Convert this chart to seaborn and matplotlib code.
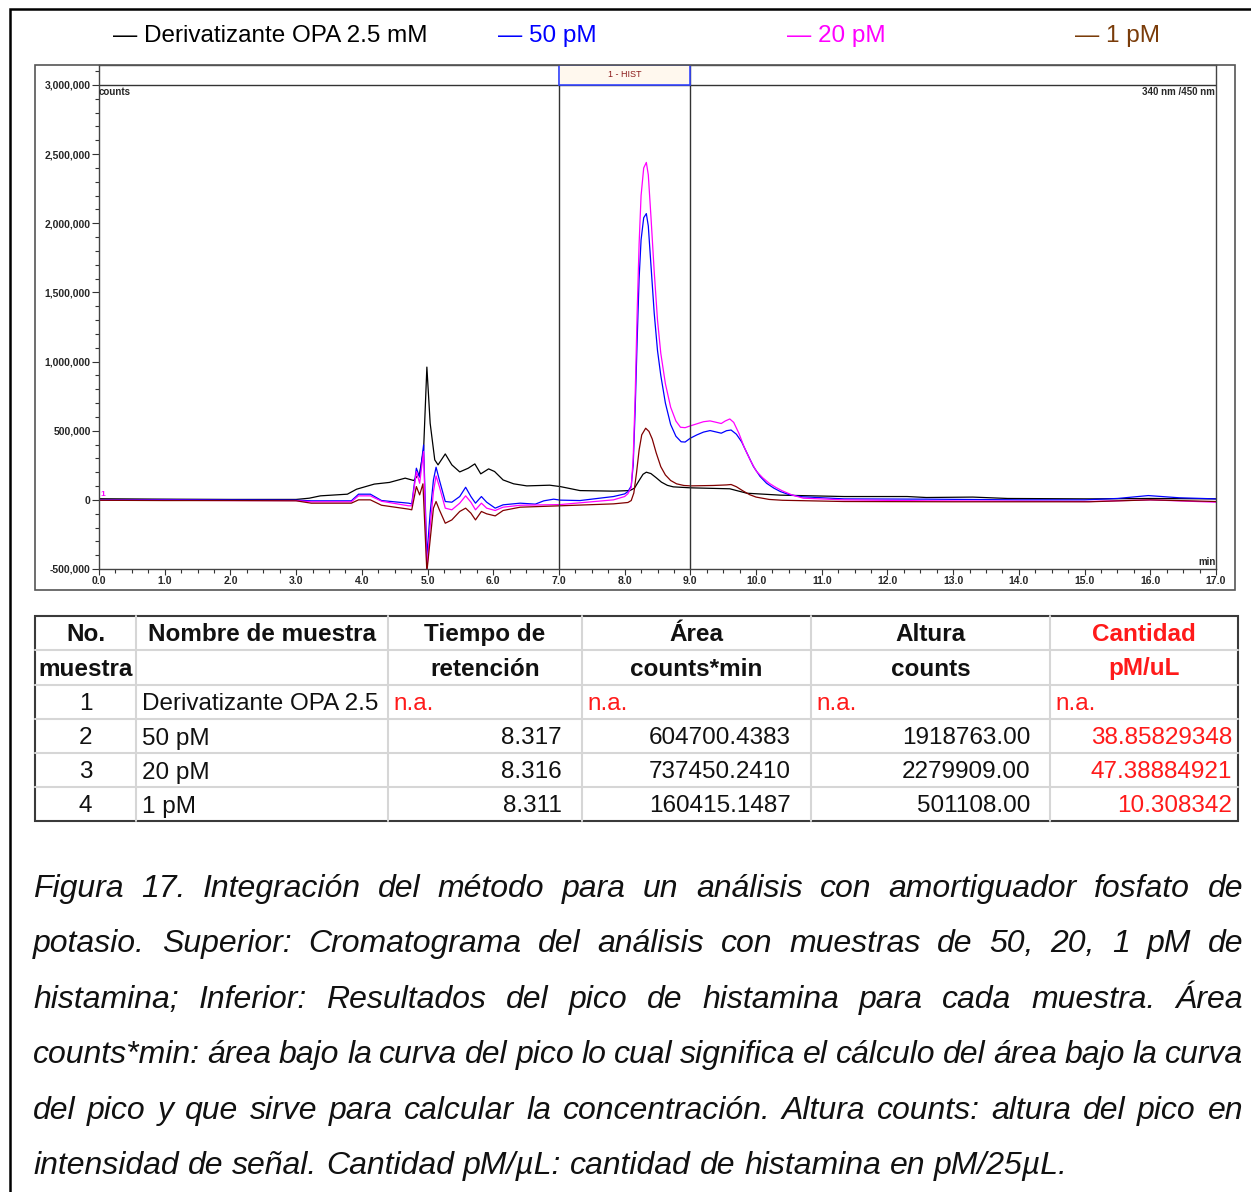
import numpy as np
import pandas as pd
import matplotlib
matplotlib.use('Agg')
from matplotlib import pyplot as plt
from matplotlib.patches import Rectangle
from matplotlib.lines import Line2D
from matplotlib.ticker import MultipleLocator, FuncFormatter
import seaborn as sns

##########
#  Data  #
##########

# Chromatogram traces (time in min, signal in counts)
t_opa = [0.0, 1.0, 2.0, 3.0, 3.2, 3.37, 3.78, 3.92, 4.19, 4.42, 4.66, 4.79, 4.88, 4.94, 4.99, 5.04,
         5.11, 5.16, 5.27, 5.37, 5.49, 5.62, 5.72, 5.81, 5.93, 6.02, 6.15, 6.31, 6.51, 6.86, 7.02,
         7.32, 7.83, 8.08, 8.15, 8.22, 8.28, 8.33, 8.40, 8.48, 8.56, 8.65, 8.74, 9.0, 9.6, 9.86,
         10.37, 11.34, 12.3, 12.59, 13.3, 13.83, 15.07, 16.0, 17.0]
v_opa = [8e3, 5e3, 3e3, 3e3, 12e3, 29e3, 41e3, 77e3, 114e3, 126e3, 157e3, 140e3, 193e3, 361e3, 960e3,
         554e3, 289e3, 253e3, 332e3, 253e3, 202e3, 229e3, 260e3, 188e3, 224e3, 205e3, 144e3, 116e3,
         101e3, 106e3, 96e3, 67e3, 63e3, 67e3, 85e3, 140e3, 185e3, 200e3, 190e3, 160e3, 128e3,
         105e3, 94e3, 87e3, 80e3, 48e3, 34e3, 24e3, 24e3, 17e3, 20e3, 10e3, 7e3, 10e3, 7e3]

t_50 = [0.0, 1.0, 2.0, 3.0, 3.23, 3.84, 3.95, 4.13, 4.30, 4.71, 4.76, 4.83, 4.88, 4.94, 4.99, 5.04,
        5.09, 5.13, 5.18, 5.27, 5.37, 5.49, 5.58, 5.66, 5.73, 5.82, 5.90, 6.03, 6.15, 6.41, 6.64,
        6.77, 6.92, 7.02, 7.32, 7.83, 8.0, 8.05, 8.10, 8.13, 8.16, 8.19, 8.22, 8.25, 8.29, 8.33,
        8.36, 8.40, 8.45, 8.50, 8.55, 8.62, 8.70, 8.78, 8.86, 8.92, 9.0, 9.1, 9.2, 9.3, 9.4, 9.47,
        9.55, 9.62, 9.7, 9.78, 9.86, 9.96, 10.06, 10.16, 10.27, 10.37, 10.5, 10.7, 10.85, 11.34,
        12.6, 14.0, 15.0, 15.5, 15.97, 16.44, 17.0]
v_50 = [0, 2e3, 0, -2e3, -7e3, -7e3, 41e3, 41e3, -5e3, -24e3, -29e3, 229e3, 164e3, 397e3, -410e3,
        -94e3, 144e3, 236e3, 144e3, -12e3, -17e3, 24e3, 91e3, 24e3, -24e3, 24e3, -17e3, -60e3,
        -36e3, -24e3, -31e3, -7e3, 5e3, -2e3, -5e3, 24e3, 43e3, 60e3, 100e3, 250e3, 650e3, 1.15e6,
        1.6e6, 1.88e6, 2.04e6, 2.07e6, 1.98e6, 1.70e6, 1.35e6, 1.08e6, 900e3, 700e3, 545e3, 460e3,
        420e3, 418e3, 446e3, 470e3, 490e3, 501e3, 490e3, 482e3, 500e3, 505e3, 475e3, 420e3, 340e3,
        241e3, 170e3, 120e3, 85e3, 60e3, 38e3, 22e3, 19e3, 7e3, 5e3, 0, 0, 10e3, 31e3, 15e3, 7e3]

t_20 = [0.0, 1.0, 2.0, 3.0, 3.23, 3.84, 3.95, 4.13, 4.30, 4.71, 4.76, 4.83, 4.88, 4.94, 4.99, 5.04,
        5.09, 5.13, 5.18, 5.27, 5.37, 5.49, 5.58, 5.66, 5.73, 5.82, 5.90, 6.03, 6.15, 6.41, 7.02,
        7.83, 8.0, 8.05, 8.10, 8.13, 8.16, 8.19, 8.22, 8.25, 8.29, 8.33, 8.36, 8.40, 8.45, 8.50,
        8.55, 8.62, 8.70, 8.78, 8.85, 8.92, 9.0, 9.1, 9.2, 9.3, 9.4, 9.47, 9.53, 9.6, 9.66, 9.74,
        9.82, 9.91, 10.0, 10.1, 10.2, 10.3, 10.4, 10.55, 10.72, 11.34, 12.6, 15.07, 16.0, 17.0]
v_20 = [-3e3, -3e3, -5e3, -5e3, -14e3, -14e3, 29e3, 29e3, -10e3, -43e3, -43e3, 205e3, 120e3, 349e3,
        -506e3, -193e3, 60e3, 173e3, 96e3, -60e3, -72e3, -24e3, 29e3, -17e3, -72e3, -24e3, -60e3,
        -77e3, -53e3, -39e3, -34e3, 0, 24e3, 45e3, 90e3, 300e3, 750e3, 1.35e6, 1.85e6, 2.2e6, 2.40e6,
        2.44e6, 2.35e6, 2.05e6, 1.65e6, 1.30e6, 1.06e6, 840e3, 670e3, 570e3, 525e3, 522e3, 535e3,
        550e3, 565e3, 571e3, 560e3, 552e3, 570e3, 585e3, 560e3, 480e3, 380e3, 289e3, 210e3, 160e3,
        120e3, 90e3, 65e3, 35e3, 12e3, 0, -7e3, -12e3, 0, -17e3]

t_1 = [0.0, 1.0, 2.0, 3.0, 3.23, 3.84, 3.95, 4.13, 4.30, 4.71, 4.76, 4.83, 4.88, 4.93, 4.99, 5.04,
       5.09, 5.13, 5.18, 5.27, 5.37, 5.49, 5.58, 5.66, 5.73, 5.82, 5.90, 6.03, 6.15, 6.41, 7.02,
       7.83, 8.05, 8.10, 8.14, 8.18, 8.22, 8.26, 8.32, 8.37, 8.42, 8.48, 8.55, 8.62, 8.70, 8.79,
       8.9, 9.0, 9.35, 9.55, 9.62, 9.7, 9.8, 9.9, 10.0, 10.2, 10.4, 11.34, 13.0, 15.07, 16.0, 17.0]
v_1 = [-3e3, -5e3, -5e3, -7e3, -24e3, -24e3, 0, 0, -39e3, -67e3, -72e3, 96e3, 36e3, 116e3, -520e3,
       -289e3, -60e3, -12e3, -72e3, -169e3, -145e3, -84e3, -60e3, -96e3, -145e3, -84e3, -101e3,
       -116e3, -77e3, -53e3, -43e3, -29e3, -19e3, -5e3, 50e3, 193e3, 360e3, 470e3, 518e3, 495e3,
       440e3, 340e3, 240e3, 180e3, 140e3, 116e3, 104e3, 101e3, 104e3, 108e3, 111e3, 95e3, 65e3,
       38e3, 20e3, 3e3, -3e3, -12e3, -14e3, -14e3, 0, -12e3]

series_names = ['Derivatizante OPA 2.5 mM', '50 pM', '20 pM', '1 pM']
trace_colors = ['#000000', '#0000ff', '#ff00ff', '#800000']
legend_colors = ['#000000', '#0000ff', '#ff00ff', '#7a3c0a']

# Results table
header_top = ['No.', 'Nombre de muestra', 'Tiempo de', 'Área', 'Altura', 'Cantidad']
header_bottom = ['muestra', '', 'retención', 'counts*min', 'counts', 'pM/uL']
sample_no = ['1', '2', '3', '4']
sample_names = ['Derivatizante OPA 2.5', '50 pM', '20 pM', '1 pM']
ret_time = ['n.a.', '8.317', '8.316', '8.311']
peak_area = ['n.a.', '604700.4383', '737450.2410', '160415.1487']
peak_height = ['n.a.', '1918763.00', '2279909.00', '501108.00']
amount = ['n.a.', '38.85829348', '47.38884921', '10.308342']

caption_lines = [
    'Figura 17. Integración del método para un análisis con amortiguador fosfato de',
    'potasio. Superior: Cromatograma del análisis con muestras de 50, 20, 1 pM de',
    'histamina; Inferior: Resultados del pico de histamina para cada muestra. Área',
    'counts*min: área bajo la curva del pico lo cual significa el cálculo del área bajo la curva',
    'del pico y que sirve para calcular la concentración. Altura counts: altura del pico en',
    'intensidad de señal. Cantidad pM/µL: cantidad de histamina en pM/25µL.',
]

#########
# Setup #
#########

sns.set_style('white')
plt.rcParams['font.family'] = ['Liberation Sans', 'DejaVu Sans']

W, H = 1251, 1192
fig = plt.figure(figsize=(W / 100, H / 100), dpi=100)


def fx(x):
    return x / W


def fy(y):
    return 1 - y / H


# outer frame (right/bottom edges fall off the page)
fig.add_artist(Rectangle((fx(10), fy(1210)), fx(1270 - 10), (1210 - 9) / H, transform=fig.transFigure,
                         fill=False, lw=1.8, ec='black'))

#################
# Chromatogram  #
#################

# panel box
fig.add_artist(Rectangle((fx(35), fy(590)), fx(1235 - 35), (590 - 65) / H, transform=fig.transFigure,
                         fill=False, lw=1.2, ec='#555555'))

ax = fig.add_axes([fx(99), fy(569), fx(1216 - 99), (569 - 65) / H])

frames = []
for name, t, v in zip(series_names, [t_opa, t_50, t_20, t_1], [v_opa, v_50, v_20, v_1]):
    frames.append(pd.DataFrame({'tiempo': t, 'senal': v, 'muestra': name}))
df = pd.concat(frames, ignore_index=True)

sns.lineplot(data=df, x='tiempo', y='senal', hue='muestra', hue_order=series_names,
             palette=dict(zip(series_names, trace_colors)), estimator=None, legend=False,
             lw=0.9, ax=ax)

y_top = 3.0e6 + 20 * 500000 / 69.2
ax.set_xlim(0, 17)
ax.set_ylim(-500000, y_top)
ax.set_xlabel('')
ax.set_ylabel('')
ax.grid(False)
for s in ax.spines.values():
    s.set_color('#444444')
    s.set_linewidth(1.0)

ax.xaxis.set_major_locator(MultipleLocator(1))
ax.xaxis.set_minor_locator(MultipleLocator(0.25))
ax.yaxis.set_major_locator(MultipleLocator(500000))
ax.yaxis.set_minor_locator(MultipleLocator(100000))
ax.xaxis.set_major_formatter(FuncFormatter(lambda x, p: '%.1f' % x))
ax.yaxis.set_major_formatter(FuncFormatter(lambda y, p: '{:,.0f}'.format(y) if y <= 3e6 else ''))
ax.tick_params(axis='both', which='both', direction='out', color='#333333', width=0.8)
ax.tick_params(axis='x', which='major', length=4, pad=1, labelsize=7.5)
ax.tick_params(axis='x', which='minor', length=3)
ax.tick_params(axis='y', which='major', length=5, pad=1, labelsize=7.5)
ax.tick_params(axis='y', which='minor', length=3)
ax.tick_params(bottom=True, left=True, which='both')
for lab in ax.get_xticklabels() + ax.get_yticklabels():
    lab.set_fontweight('bold')

ax.axhline(3.0e6, color='#333333', lw=1.0)
ax.axvline(7.0, color='#333333', lw=1.0)
ax.axvline(9.0, color='#333333', lw=1.0)
ax.add_patch(Rectangle((7.0, 3.0e6), 2.0, y_top - 3.0e6, fc='#fff8ee', ec='#3344ff', lw=1.2, zorder=5))
ax.text(8.0, (3.0e6 + y_top) / 2, '1 - HIST', color='#8b1a1a', fontsize=6.5, ha='center', va='center',
        zorder=6)
ax.text(0.0, 2.985e6, 'counts', fontsize=7, fontweight='bold', ha='left', va='top')
ax.text(16.99, 2.985e6, '340 nm /450 nm', fontsize=7, fontweight='bold', ha='right', va='top')
ax.text(16.99, -488000, 'min', fontsize=7, fontweight='bold', ha='right', va='bottom')
ax.text(0.02, 40000, '1', fontsize=6, color='#ff00ff', fontweight='bold', ha='left', va='center')

# legend row above the panel
legend_x = [113, 498, 787, 1075]
for name, c, x in zip(series_names, legend_colors, legend_x):
    fig.text(fx(x), fy(42), '— ' + name, color=c, fontsize=17.5, ha='left', va='baseline')

#########
# Table #
#########

col_x = [35, 136, 388, 582, 811, 1050, 1238]
row_y = [616, 650, 685, 719, 753, 787, 821]
grid_c = '#d6d6d6'
for x in col_x[1:-1]:
    fig.add_artist(Line2D([fx(x), fx(x)], [fy(row_y[0]), fy(row_y[-1])], color=grid_c, lw=1.5))
for y in row_y[1:-1]:
    fig.add_artist(Line2D([fx(col_x[0]), fx(col_x[-1])], [fy(y), fy(y)], color=grid_c, lw=1.5))
fig.add_artist(Rectangle((fx(35), fy(821)), fx(1238 - 35), (821 - 616) / H, transform=fig.transFigure,
                         fill=False, lw=1.5, ec='#3a3a3a'))

red = '#ff1a1a'
tcol = '#111111'
fs = 17.5
centers = [(col_x[i] + col_x[i + 1]) / 2 for i in range(6)]
for i in range(6):
    c = red if i == 5 else tcol
    fig.text(fx(centers[i]), fy(641), header_top[i], ha='center', va='baseline', fontsize=fs,
             fontweight='bold', color=c)
    fig.text(fx(centers[i]), fy(675.5), header_bottom[i], ha='center', va='baseline', fontsize=fs,
             fontweight='bold', color=c)

for r in range(4):
    yc = fy(row_y[r + 3] - 8.5)
    fig.text(fx(centers[0]), yc, sample_no[r], ha='center', va='baseline', fontsize=fs, color=tcol)
    fig.text(fx(142), yc, sample_names[r], ha='left', va='baseline', fontsize=fs, color=tcol)
    cols = [ret_time[r], peak_area[r], peak_height[r], amount[r]]
    right_edges = [562, 791, 1030, 1232]
    for k, val in enumerate(cols):
        if val == 'n.a.':
            fig.text(fx(col_x[k + 2] + 5), yc, val, ha='left', va='baseline', fontsize=fs, color=red)
        else:
            c = red if k == 3 else tcol
            fig.text(fx(right_edges[k]), yc, val, ha='right', va='baseline', fontsize=fs, color=c)

###########
# Caption #
###########

cap_fs = 23
x0, x1 = 33, 1243
renderer = fig.canvas.get_renderer()


def word_width(w):
    t = fig.text(0, 0, w, fontsize=cap_fs, style='italic')
    wd = t.get_window_extent(renderer).width
    t.remove()
    return wd


space_w = word_width('a a') - word_width('aa')
for i, line in enumerate(caption_lines):
    yb = fy(897 + i * 55.4)
    words = line.split(' ')
    widths = [word_width(w) for w in words]
    if i < len(caption_lines) - 1:
        gap = (x1 - x0 - sum(widths)) / (len(words) - 1)
    else:
        gap = space_w
    x = x0
    for w, wd in zip(words, widths):
        fig.text(fx(x), yb, w, fontsize=cap_fs, style='italic', ha='left', va='baseline', color='#111111')
        x += wd + gap

fig.savefig('out.png', dpi=100)
